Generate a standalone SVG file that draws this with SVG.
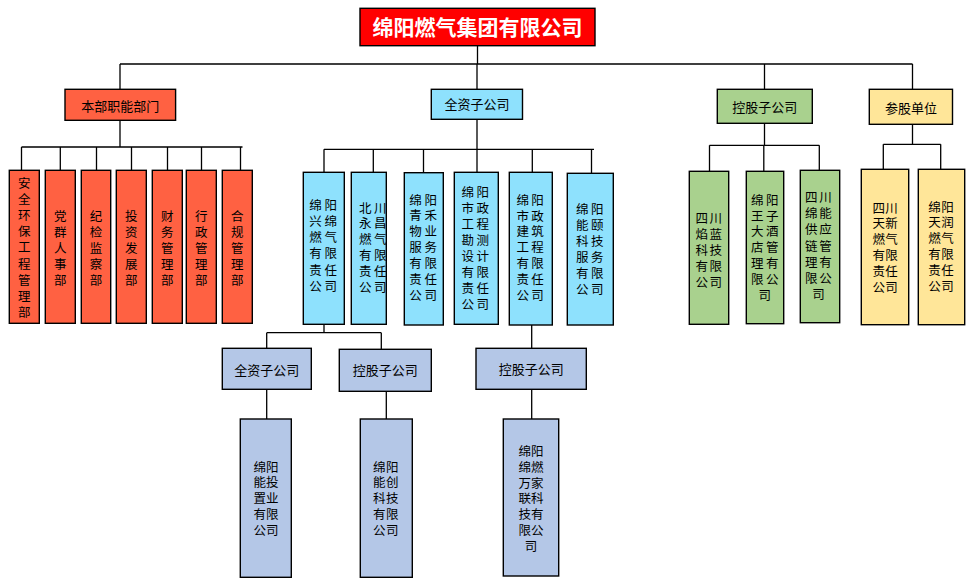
<svg xmlns="http://www.w3.org/2000/svg" width="973" height="585" viewBox="0 0 973 585">
<style>
.r,.b,.g,.y,.s,.t{stroke:#000;stroke-width:1.4}
.r{fill:#FF6142}.b{fill:#8EE1FD}.g{fill:#A9D18E}.y{fill:#FFE699}.s{fill:#B4C7E7}.t{fill:#FF0000}
text{font-family:"Liberation Sans","Noto Sans CJK SC",sans-serif;font-size:12.5px;fill:#000;text-anchor:middle}
.h{font-size:13px}
.title{font-size:21px;font-weight:bold;fill:#fff}
#conn path{fill:none;stroke:#000;stroke-width:1.3}
</style>
<rect width="973" height="585" fill="#fff"/>
<g id="conn">
<path d="M477.5 45.7V64M120 64H912.5M120 64V89.3M477 64V89.3M764.5 64V89.3M912.5 64V89.3"/>
<path d="M120 120.3V147M21.5 147H242.5M21.5 147V170.3M60.3 147V170.3M96.5 147V170.3M131.5 147V170.3M167.5 147V170.3M201.5 147V170.3M240.5 147V170.3"/>
<path d="M477 119.3V149.3M324 149.3H594M324 149.3V172.3M373.3 149.3V172.3M423.5 149.3V172.7M477 149.3V172.3M532.3 149.3V172.3M591.5 149.3V173.3"/>
<path d="M764.5 123.3V145.3M709.5 145.3H819.3M709.5 145.3V171.3M763.8 145.3V171.3M819.3 145.3V170.3"/>
<path d="M912.5 124.3V144.3M883.3 144.3H940.7M883.3 144.3V169.3M940.7 144.3V169.3"/>
<path d="M324 324.3V332.7M266.7 332.7H381.3M266.7 332.7V348.3M381.3 332.7V349.3M531.7 325V348.3"/>
<path d="M266.7 389.3V419M386.3 391.3V419M531.7 389.3V419"/>
</g>
<g id="root"><rect class="t" x="360" y="8.3" width="235" height="37.4"/><text class="title" x="477.5" y="34.5">绵阳燃气集团有限公司</text></g>
<g id="h1"><rect class="r" x="65" y="89.3" width="110.6" height="31"/><text class="h" x="120.3" y="110.5">本部职能部门</text></g>
<g id="h2"><rect class="b" x="431.3" y="89.3" width="91.2" height="30"/><text class="h" x="476.9" y="109.3">全资子公司</text></g>
<g id="h3"><rect class="g" x="717.3" y="89.3" width="95" height="34"/><text class="h" x="764.8" y="112">控股子公司</text></g>
<g id="h4"><rect class="y" x="869.3" y="89.3" width="83.2" height="35"/><text class="h" x="910.9" y="113">参股单位</text></g>

<g id="r1"><rect class="r" x="9.3" y="170.3" width="30" height="153"/><text><tspan x="24.3" y="188">安</tspan><tspan x="24.3" y="204.1">全</tspan><tspan x="24.3" y="220.2">环</tspan><tspan x="24.3" y="236.3">保</tspan><tspan x="24.3" y="252.4">工</tspan><tspan x="24.3" y="268.5">程</tspan><tspan x="24.3" y="284.6">管</tspan><tspan x="24.3" y="300.7">理</tspan><tspan x="24.3" y="316.8">部</tspan></text></g>
<g id="r2"><rect class="r" x="45.3" y="170.3" width="30" height="153"/><text><tspan x="60.3" y="220.5">党</tspan><tspan x="60.3" y="236.5">群</tspan><tspan x="60.3" y="252.5">人</tspan><tspan x="60.3" y="268.5">事</tspan><tspan x="60.3" y="284.5">部</tspan></text></g>
<g id="r3"><rect class="r" x="81.3" y="170.3" width="29.4" height="153"/><text><tspan x="96" y="220.5">纪</tspan><tspan x="96" y="236.5">检</tspan><tspan x="96" y="252.5">监</tspan><tspan x="96" y="268.5">察</tspan><tspan x="96" y="284.5">部</tspan></text></g>
<g id="r4"><rect class="r" x="116.3" y="170.3" width="30" height="153"/><text><tspan x="131.3" y="220.5">投</tspan><tspan x="131.3" y="236.5">资</tspan><tspan x="131.3" y="252.5">发</tspan><tspan x="131.3" y="268.5">展</tspan><tspan x="131.3" y="284.5">部</tspan></text></g>
<g id="r5"><rect class="r" x="152.3" y="170.3" width="30" height="153"/><text><tspan x="167.3" y="220.5">财</tspan><tspan x="167.3" y="236.5">务</tspan><tspan x="167.3" y="252.5">管</tspan><tspan x="167.3" y="268.5">理</tspan><tspan x="167.3" y="284.5">部</tspan></text></g>
<g id="r6"><rect class="r" x="186.3" y="170.3" width="30" height="153"/><text><tspan x="201.3" y="220.5">行</tspan><tspan x="201.3" y="236.5">政</tspan><tspan x="201.3" y="252.5">管</tspan><tspan x="201.3" y="268.5">理</tspan><tspan x="201.3" y="284.5">部</tspan></text></g>
<g id="r7"><rect class="r" x="222.3" y="170.3" width="30" height="153"/><text><tspan x="237.3" y="220.5">合</tspan><tspan x="237.3" y="236.5">规</tspan><tspan x="237.3" y="252.5">管</tspan><tspan x="237.3" y="268.5">理</tspan><tspan x="237.3" y="284.5">部</tspan></text></g>

<g id="b1"><rect class="b" x="303.3" y="172.3" width="41" height="152"/><text><tspan x="315.5 330.8" y="209.5">绵阳</tspan><tspan x="315.5 330.8" y="225.8">兴绵</tspan><tspan x="315.5 330.8" y="242.1">燃气</tspan><tspan x="315.5 330.8" y="258.4">有限</tspan><tspan x="315.5 330.8" y="274.7">责任</tspan><tspan x="315.5 330.8" y="291">公司</tspan></text></g>
<g id="b2"><rect class="b" x="351.3" y="172.3" width="35" height="152"/><text><tspan x="365.3 380.3" y="212.5">北川</tspan><tspan x="365.3 380.3" y="228.4">永昌</tspan><tspan x="365.3 380.3" y="244.3">燃气</tspan><tspan x="365.3 380.3" y="260.2">有限</tspan><tspan x="365.3 380.3" y="276.1">责任</tspan><tspan x="365.3 380.3" y="292">公司</tspan></text></g>
<g id="b3"><rect class="b" x="404.3" y="172.7" width="39" height="152.3"/><text><tspan x="415.5 430.8" y="204.5">绵阳</tspan><tspan x="415.5 430.8" y="220.3">青禾</tspan><tspan x="415.5 430.8" y="236.2">物业</tspan><tspan x="415.5 430.8" y="252">服务</tspan><tspan x="415.5 430.8" y="267.8">有限</tspan><tspan x="415.5 430.8" y="283.7">责任</tspan><tspan x="415.5 430.8" y="299.5">公司</tspan></text></g>
<g id="b4"><rect class="b" x="454.3" y="172.3" width="44" height="152"/><text><tspan x="467.8 482.8" y="196.8">绵阳</tspan><tspan x="467.8 482.8" y="212.8">市政</tspan><tspan x="467.8 482.8" y="228.8">工程</tspan><tspan x="467.8 482.8" y="244.8">勘测</tspan><tspan x="467.8 482.8" y="260.8">设计</tspan><tspan x="467.8 482.8" y="276.8">有限</tspan><tspan x="467.8 482.8" y="292.8">责任</tspan><tspan x="467.8 482.8" y="308.8">公司</tspan></text></g>
<g id="b5"><rect class="b" x="509.3" y="172.3" width="43" height="152.7"/><text><tspan x="522.8 537.5" y="204.5">绵阳</tspan><tspan x="522.8 537.5" y="220.5">市政</tspan><tspan x="522.8 537.5" y="236.4">建筑</tspan><tspan x="522.8 537.5" y="252.4">工程</tspan><tspan x="522.8 537.5" y="268.3">有限</tspan><tspan x="522.8 537.5" y="284.3">责任</tspan><tspan x="522.8 537.5" y="300.2">公司</tspan></text></g>
<g id="b6"><rect class="b" x="567.3" y="173.3" width="46" height="151.7"/><text><tspan x="582.2 597.2" y="214.2">绵阳</tspan><tspan x="582.2 597.2" y="230.2">能颐</tspan><tspan x="582.2 597.2" y="246.1">科技</tspan><tspan x="582.2 597.2" y="262.1">服务</tspan><tspan x="582.2 597.2" y="278">有限</tspan><tspan x="582.2 597.2" y="294">公司</tspan></text></g>

<g id="g1"><rect class="g" x="689.3" y="171.3" width="39.4" height="153"/><text><tspan x="701.7 715.8" y="222.5">四川</tspan><tspan x="701.7 715.8" y="238.6">焰蓝</tspan><tspan x="701.7 715.8" y="254.7">科技</tspan><tspan x="701.7 715.8" y="270.8">有限</tspan><tspan x="701.7 715.8" y="286.9">公司</tspan></text></g>
<g id="g2"><rect class="g" x="746.3" y="171.3" width="37.4" height="152.4"/><text><tspan x="757.2 772.2" y="204.5">绵阳</tspan><tspan x="757.2 772.2" y="220.5">王子</tspan><tspan x="757.2 772.2" y="236.4">大酒</tspan><tspan x="757.2 772.2" y="252.4">店管</tspan><tspan x="757.2 772.2" y="268.3">理有</tspan><tspan x="757.2 772.2" y="284.3">限公</tspan><tspan x="764.7" y="300.3">司</tspan></text></g>
<g id="g3"><rect class="g" x="800.3" y="170.3" width="39.4" height="152.4"/><text><tspan x="811.2 825.5" y="202.2">四川</tspan><tspan x="811.2 825.5" y="218.3">绵能</tspan><tspan x="811.2 825.5" y="234.4">供应</tspan><tspan x="811.2 825.5" y="250.5">链管</tspan><tspan x="811.2 825.5" y="266.6">理有</tspan><tspan x="811.2 825.5" y="282.7">限公</tspan><tspan x="818.4" y="298.8">司</tspan></text></g>

<g id="y1"><rect class="y" x="861.3" y="169.3" width="47.4" height="155.4"/><text><tspan x="878.8 891.5" y="212.5">四川</tspan><tspan x="878.8 891.5" y="228.3">天新</tspan><tspan x="878.8 891.5" y="244.2">燃气</tspan><tspan x="878.8 891.5" y="260">有限</tspan><tspan x="878.8 891.5" y="275.9">责任</tspan><tspan x="878.8 891.5" y="291.7">公司</tspan></text></g>
<g id="y2"><rect class="y" x="918.3" y="169.3" width="46.4" height="155.4"/><text><tspan x="934.5 947.5" y="211.5">绵阳</tspan><tspan x="934.5 947.5" y="227.3">天润</tspan><tspan x="934.5 947.5" y="243.2">燃气</tspan><tspan x="934.5 947.5" y="259">有限</tspan><tspan x="934.5 947.5" y="274.9">责任</tspan><tspan x="934.5 947.5" y="290.7">公司</tspan></text></g>

<g id="s1"><rect class="s" x="222.3" y="348.3" width="89" height="41"/><text class="h" x="266.8" y="374.5">全资子公司</text></g>
<g id="s2"><rect class="s" x="339.3" y="349.3" width="92" height="42"/><text class="h" x="385.3" y="375.3">控股子公司</text></g>
<g id="s3"><rect class="s" x="476" y="348.3" width="110.3" height="41"/><text class="h" x="531.2" y="373.7">控股子公司</text></g>

<g id="a1"><rect class="s" x="240.3" y="419" width="51" height="158.3"/><text><tspan x="259.7 272.2" y="471.5">绵阳</tspan><tspan x="259.7 272.2" y="487.4">能投</tspan><tspan x="259.7 272.2" y="503.3">置业</tspan><tspan x="259.7 272.2" y="519.2">有限</tspan><tspan x="259.7 272.2" y="535.1">公司</tspan></text></g>
<g id="a2"><rect class="s" x="360.3" y="419" width="52" height="158.3"/><text><tspan x="379.3 392.2" y="471.5">绵阳</tspan><tspan x="379.3 392.2" y="487.4">能创</tspan><tspan x="379.3 392.2" y="503.3">科技</tspan><tspan x="379.3 392.2" y="519.2">有限</tspan><tspan x="379.3 392.2" y="535.1">公司</tspan></text></g>
<g id="a3"><rect class="s" x="503.3" y="419" width="55.4" height="157"/><text><tspan x="524.7 537.2" y="455.7">绵阳</tspan><tspan x="524.7 537.2" y="471.6">绵燃</tspan><tspan x="524.7 537.2" y="487.5">万家</tspan><tspan x="524.7 537.2" y="503.4">联科</tspan><tspan x="524.7 537.2" y="519.3">技有</tspan><tspan x="524.7 537.2" y="535.2">限公</tspan><tspan x="531" y="551.1">司</tspan></text></g>
</svg>
